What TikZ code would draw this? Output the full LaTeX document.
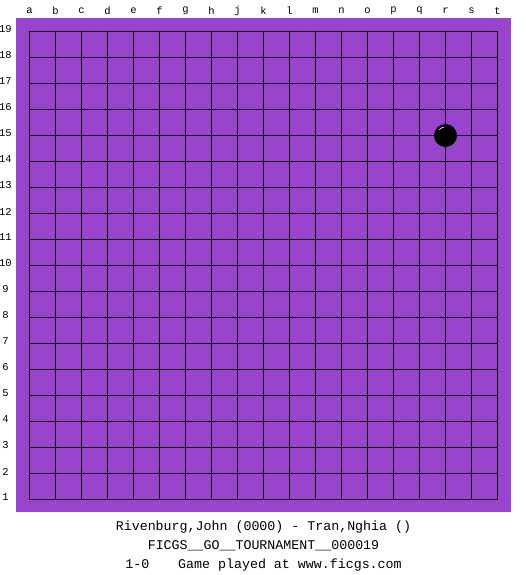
\documentclass[tikz,border=0pt]{standalone}
\usepackage{fontspec}
\setmonofont{Liberation Mono}
\definecolor{boardpurple}{RGB}{153,68,204}
\usetikzlibrary{positioning}

\begin{document}
\begin{tikzpicture}[x=1pt,y=-1pt,line width=1pt,font=\ttfamily]
      \tikzstyle{coord}=[font=\ttfamily\fontsize{10.5}{10.5}\selectfont,inner sep=0pt]
      \tikzstyle{caption}=[font=\ttfamily\fontsize{13.3}{13.3}\selectfont,inner sep=0pt]
      \tikzstyle{stone}=[fill=black]

      \useasboundingbox (0,0) rectangle (525,575);
      \fill[boardpurple] (16,18) rectangle (511,512);

      % grid lines
      \foreach \i in {0,...,18} {
        \draw (29.5+26*\i,31.5) -- (29.5+26*\i,499.5);
        \draw (29.5,31.5+26*\i) -- (497.5,31.5+26*\i);
      }

      % coordinates
      \foreach \c [count=\i from 0] in {a,b,c,d,e,f,g,h,j,k,l,m,n,o,p,q,r,s,t}
        \node[coord] (col\c) at (29.5+26*\i,11) {\c};
      \foreach \r in {1,...,19}
        \node[coord] (row\r) at (5.5,29.5+26*19-26*\r) {\r};

      % the only stone, on r15
      \fill[stone] (445.5,135.5) circle (11.5);
      \draw[white,line width=0.6pt] (445.5,135.5) ++(222:8.5) arc (222:258:8.5);

      \node[caption] (players) at (263.5,527) {Rivenburg,John (0000) - Tran,Nghia ()};
      \node[caption] (event) at (263.5,545.5) {FICGS\_\_GO\_\_TOURNAMENT\_\_000019};
      \node[caption] (result) at (263.5,565.5) {1-0\hspace{29pt}Game played at www.ficgs.com};

\end{tikzpicture}
\end{document}
